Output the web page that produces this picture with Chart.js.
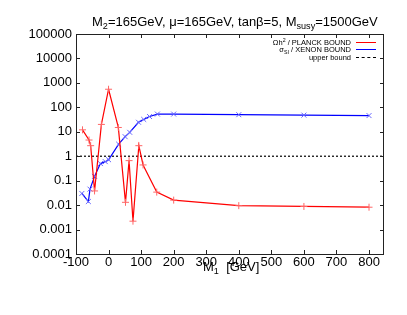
<!DOCTYPE html>
<html>
<head>
<meta charset="utf-8">
<script src="https://cdn.jsdelivr.net/npm/chart.js@4"></script>
<style>
    body { margin: 0; background: #fff; font-family: "Liberation Sans", Arial, sans-serif; }
    #caixa { position: relative; width: 407px; height: 315px; }
    #titulo { position: absolute; left: 92px; top: 14px; font-size: 13px; white-space: nowrap; color: #000; }
    #rotuloX { position: absolute; left: 203px; top: 259px; font-size: 13px; white-space: nowrap; color: #000; }
    sub { font-size: 70%; vertical-align: -0.3em; line-height: 0; }
    sup { font-size: 70%; vertical-align: 0.5em; line-height: 0; }
    .legenda { position: absolute; right: 56px; font-size: 7.5px; white-space: nowrap; text-align: right; color: #000; }
    .amostra { position: absolute; left: 356px; width: 20px; height: 0; }
</style>
</head>
<body>
<div id="caixa">
    <canvas id="grafico" width="407" height="315"></canvas>
    <div id="titulo">M<sub>2</sub>=165GeV, &mu;=165GeV, tan&beta;=5, M<sub>susy</sub>=1500GeV</div>
    <div id="rotuloX">M<sub>1</sub>&nbsp;&nbsp;[GeV]</div>
    <div class="legenda" style="top:38px">&Omega;h<sup>2</sup> / PLANCK BOUND</div>
    <div class="amostra" style="top:42px;border-top:1px solid #ff0000"></div>
    <div class="legenda" style="top:45px">&sigma;<sub>SI</sub> / XENON BOUND</div>
    <div class="amostra" style="top:49px;border-top:1px solid #0000ff"></div>
    <div class="legenda" style="top:53px">upper bound</div>
    <div class="amostra" style="top:57px;border-top:1px dashed #000"></div>
</div>
<script>
// dados
const m1Planck = [-80, -60, -55, -43, -22, 0, 30, 52, 63, 75, 93, 106, 148, 200, 400, 600, 800];
const omegaPlanck = [12, 4.6, 2.7, 0.038, 20, 550, 15, 0.013, 0.66, 0.0022, 2.7, 0.44, 0.034, 0.016, 0.0095, 0.0088, 0.0082];

const m1Xenon = [-82, -62, -57, -43, -25, -10, 0, 31, 51, 65, 92, 108, 126, 150, 200, 400, 600, 800];
const sigmaXenon = [0.03, 0.014, 0.045, 0.15, 0.5, 0.6, 0.72, 3.1, 6.3, 9.5, 24.5, 32, 42, 53, 53, 50, 48, 46];

const limiteX = [-100, 846];
const limiteY = [1, 1];

const ticksX = [-100, 0, 100, 200, 300, 400, 500, 600, 700, 800];
const ticksY = [0.0001, 0.001, 0.01, 0.1, 1, 10, 100, 1000, 10000, 100000];
const rotulosY = ['0.0001', '0.001', '0.01', '0.1', '1', '10', '100', '1000', '10000', '100000'];

const juntar = (xs, ys) => xs.map((x, i) => ({ x: x, y: ys[i] }));

// moldura e marcas para dentro, estilo gnuplot
const moldura = {
    id: 'moldura',
    afterDatasetsDraw(chart) {
        const { ctx, chartArea: a, scales } = chart;
        ctx.save();
        ctx.strokeStyle = '#222';
        ctx.lineWidth = 1;
        ctx.strokeRect(a.left + 0.5, a.top + 0.5, a.right - a.left - 1, a.bottom - a.top);
        ctx.beginPath();
        ticksX.forEach(v => {
            const px = Math.round(scales.x.getPixelForValue(v)) + 0.5;
            ctx.moveTo(px, a.bottom); ctx.lineTo(px, a.bottom - 4);
            ctx.moveTo(px, a.top); ctx.lineTo(px, a.top + 4);
        });
        ticksY.forEach(v => {
            const py = Math.round(scales.y.getPixelForValue(v)) + 0.5;
            ctx.moveTo(a.left, py); ctx.lineTo(a.left + 4, py);
            ctx.moveTo(a.right, py); ctx.lineTo(a.right - 4, py);
        });
        ctx.stroke();
        ctx.restore();
    }
};

Chart.defaults.font.family = '"Liberation Sans", Arial, sans-serif';
Chart.defaults.color = '#000';

new Chart(document.getElementById('grafico').getContext('2d'), {
    type: 'scatter',
    data: {
        datasets: [{
            label: 'Ωh² / PLANCK BOUND',
            data: juntar(m1Planck, omegaPlanck),
            showLine: true,
            borderColor: '#ff0000',
            backgroundColor: '#ff0000',
            borderWidth: 1.2,
            pointStyle: 'cross',
            pointRadius: 3.5,
            pointBorderWidth: 1,
            pointBorderColor: '#ff6666'
        }, {
            label: 'σSI / XENON BOUND',
            data: juntar(m1Xenon, sigmaXenon),
            showLine: true,
            borderColor: '#0000ff',
            backgroundColor: '#0000ff',
            borderWidth: 1.2,
            pointStyle: 'crossRot',
            pointRadius: 3.5,
            pointBorderWidth: 1,
            pointBorderColor: '#6666ff'
        }, {
            label: 'upper bound',
            data: juntar(limiteX, limiteY),
            showLine: true,
            borderColor: '#000',
            borderWidth: 1.2,
            borderDash: [2, 2],
            pointRadius: 0
        }]
    },
    options: {
        responsive: false,
        animation: false,
        layout: { padding: { top: 34, right: 23, left: 0, bottom: 0 } },
        plugins: {
            legend: { display: false },
            tooltip: { enabled: false }
        },
        scales: {
            x: {
                type: 'linear',
                min: -100,
                max: 846,
                afterBuildTicks: s => { s.ticks = ticksX.map(v => ({ value: v })); },
                afterFit: s => { s.height = 61; },
                grid: { display: false, drawTicks: false },
                border: { display: false },
                ticks: { padding: 1, font: { size: 13 }, maxRotation: 0, autoSkip: false }
            },
            y: {
                type: 'logarithmic',
                min: 0.0001,
                max: 100000,
                afterBuildTicks: s => { s.ticks = ticksY.map(v => ({ value: v })); },
                afterFit: s => { s.width = 76; },
                grid: { display: false, drawTicks: false },
                border: { display: false },
                ticks: {
                    padding: 4,
                    font: { size: 13 },
                    autoSkip: false,
                    callback: (v) => rotulosY[ticksY.indexOf(v)] ?? ''
                }
            }
        }
    },
    plugins: [moldura]
});
</script>
</body>
</html>
